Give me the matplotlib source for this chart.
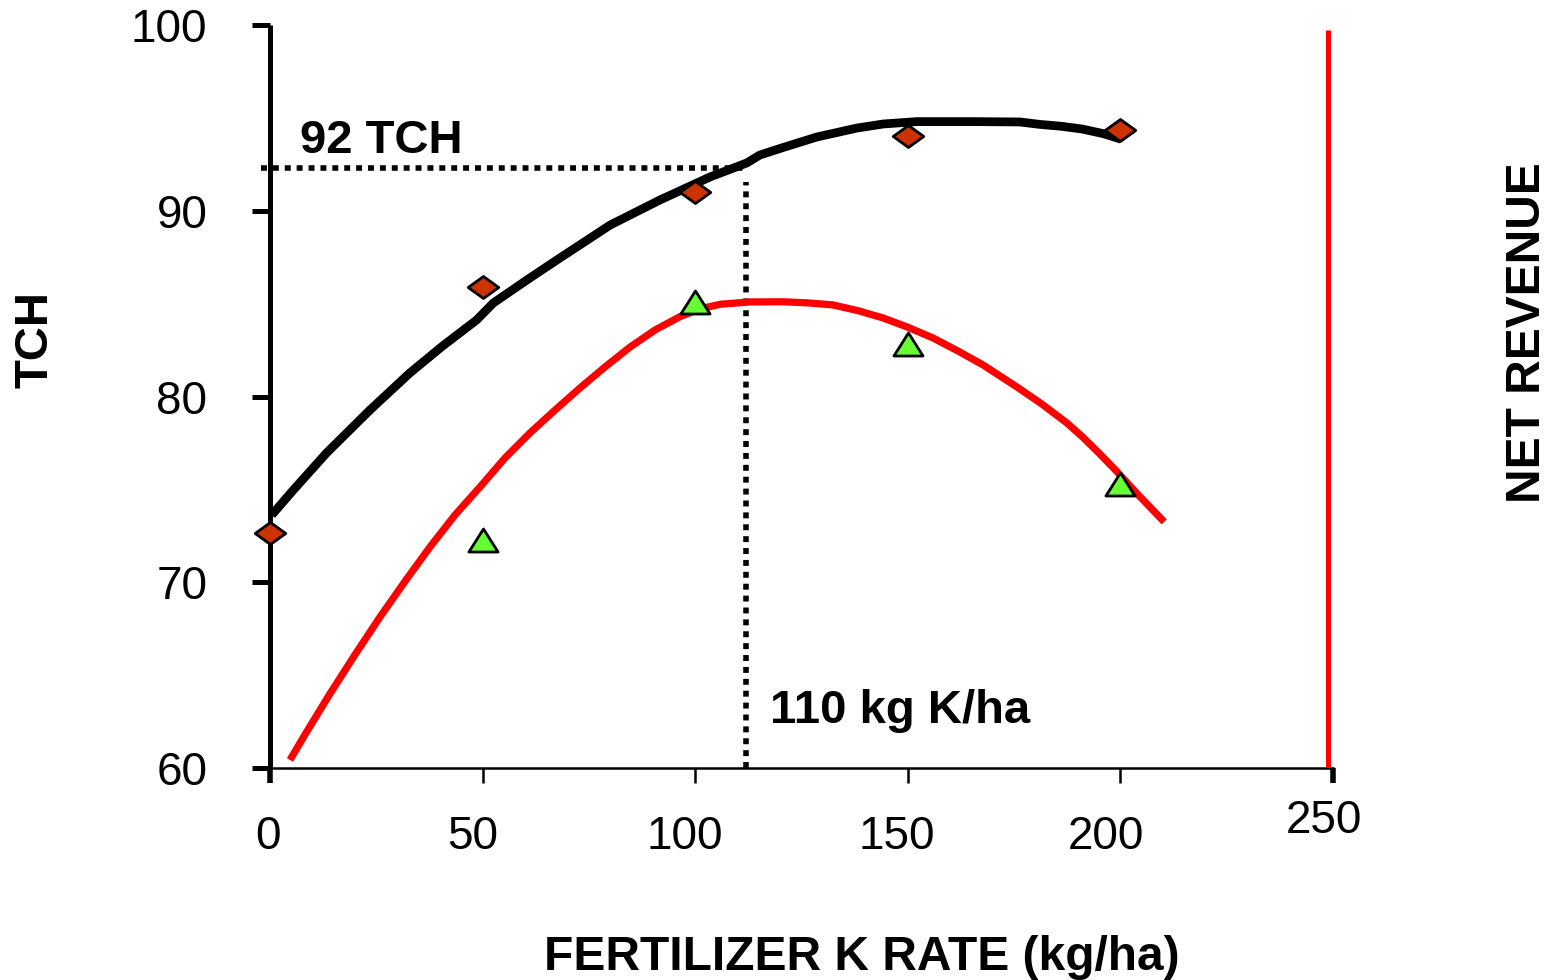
import matplotlib
matplotlib.use("Agg")
import matplotlib.pyplot as plt
import matplotlib.transforms as mtransforms
from matplotlib.path import Path

plt.rcParams['font.family'] = ['Liberation Sans', 'DejaVu Sans']

# ---- data ----
rate_pts = [0, 50, 100, 150, 200]
tch_pts = [72.65, 85.9, 91.0, 94.0, 94.35]
rev_pts_x = [50, 100, 150, 200]
rev_pts = [72.3, 85.1, 82.8, 75.3]

tch_curve_x = [0.4, 5.5, 13.3, 23.5, 32.9, 40.5, 48.6, 52.5, 60.4, 68.2, 80.0, 91.7, 103.5,
               112.1, 115.2, 120.6, 128.6, 138.0, 144.2, 152.2, 165.0, 176.4, 181.0, 186.0,
               191.0, 196.0, 200.2]
tch_curve_y = [73.62, 74.97, 76.96, 79.27, 81.27, 82.7, 84.12, 85.03, 86.27, 87.46, 89.23, 90.58,
               91.82, 92.57, 93.0, 93.4, 93.97, 94.45, 94.67, 94.8, 94.8, 94.78, 94.65, 94.55,
               94.4, 94.15, 93.85]

rev_curve_x = [4.7, 8.23, 14.11, 19.99, 25.87, 31.75, 37.63, 43.5, 49.39, 55.27, 61.15, 67.03,
               72.91, 78.79, 84.67, 90.55, 96.43, 101.13, 106.0, 112.89, 120.65, 126.5,
               132.41, 138.3, 144.17, 150.0, 155.93, 161.8, 167.69, 175.68, 181.5, 187.44,
               191.21, 195.2, 199.2, 204.0, 208.84, 210.3]
rev_curve_y = [60.43, 61.8, 64.0, 66.1, 68.13, 70.05, 71.9, 73.62, 75.13, 76.69, 78.04, 79.27,
               80.46, 81.59, 82.66, 83.58, 84.3, 84.72, 84.97, 85.09, 85.1, 85.04,
               84.93, 84.62, 84.23, 83.73, 83.15, 82.45, 81.7, 80.51, 79.6, 78.57,
               77.8, 76.9, 75.95, 74.75, 73.6, 73.25]

opt_rate = 111.9
opt_tch = 92.32
opt_vline_top = 91.55
rev_axis_x = 248.8

xticks = [0, 50, 100, 150, 200, 250]
yticks = [60, 70, 80, 90, 100]

# ---- figure ----
fig = plt.figure(figsize=(15.53, 9.80), dpi=100)
ax = fig.add_axes([270/1553, 1-768/980, (1333-270)/1553, (768-25)/980])
ax.set_xlim(0, 250)
ax.set_ylim(60, 100)

for s in ['top', 'right']:
    ax.spines[s].set_visible(False)
ax.spines['left'].set_linewidth(3.6)
ax.spines['bottom'].set_linewidth(1.8)
ax.spines['left'].set_capstyle('butt')

ax.set_xticks(xticks)
ax.set_xticklabels([str(v) for v in xticks])
ax.set_yticks(yticks)
ax.set_yticklabels([str(v) for v in yticks])
ax.tick_params(axis='y', direction='out', length=13, width=3.6, pad=32, labelsize=33)
ax.tick_params(axis='x', direction='out', length=11, width=1.8, pad=23, labelsize=33)
xt = ax.xaxis.get_major_ticks()
for i in (0, len(xt)-1):
    xt[i].tick1line.set_markeredgewidth(4)

# per-label horizontal/vertical nudges in pixels
label_dx = [-2, -10, -10, -11, -14, -9]
label_dy = [0, 0, 0, 0, 0, 16]
for lab, dx, dy in zip(ax.get_xticklabels(), label_dx, label_dy):
    lab.set_transform(lab.get_transform() +
                      mtransforms.ScaledTranslation(dx/100, dy/100, fig.dpi_scale_trans))

# dotted guide lines
dots = (0, (1.07, 1.07))
ax.plot([-2, opt_rate], [opt_tch, opt_tch], color='black', lw=4, ls=dots,
        dash_capstyle='butt', clip_on=False, zorder=2)
ax.plot([opt_rate, opt_rate], [60, opt_vline_top], color='black', lw=4, ls=dots,
        dash_capstyle='butt', zorder=2)

# curves
ax.plot(tch_curve_x, tch_curve_y, color='black', lw=6.3, solid_capstyle='butt',
        solid_joinstyle='round', zorder=3)
ax.plot(rev_curve_x, rev_curve_y, color='#FF0000', lw=5.2, solid_capstyle='butt',
        solid_joinstyle='round', zorder=3)

# secondary (net revenue) axis line
ax.plot([rev_axis_x, rev_axis_x], [60, 99.75], color='#FF0000', lw=3.6,
        solid_capstyle='butt', zorder=3)

# markers
diamond = Path([(-1, 0), (0, 0.72), (1, 0), (0, -0.72), (-1, 0)],
               [Path.MOVETO, Path.LINETO, Path.LINETO, Path.LINETO, Path.CLOSEPOLY])
tri = Path([(-1, -0.79), (1, -0.79), (0, 0.79), (-1, -0.79)],
           [Path.MOVETO, Path.LINETO, Path.LINETO, Path.CLOSEPOLY])
ax.plot(rate_pts, tch_pts, ls='none', marker=diamond, ms=22, mfc='#CC3300',
        mec='black', mew=2, clip_on=False, zorder=4)
ax.plot(rev_pts_x, rev_pts, ls='none', marker=tri, ms=21, mfc='#66FF33',
        mec='black', mew=2, clip_on=False, zorder=4)

# annotations
ax.text(7, 93.11, '92 TCH', fontsize=34, fontweight='bold', ha='left', va='baseline')
ax.text(117.5, 62.42, '110 kg K/ha', fontsize=34, fontweight='bold', ha='left', va='baseline')

fig.text(35/1553, 1-340/980, 'TCH', fontsize=34, fontweight='bold', rotation=90,
         ha='center', va='center')
fig.text(1527/1553, 1-333/980, 'NET REVENUE', fontsize=34.5, fontweight='bold', rotation=90,
         ha='center', va='center')
fig.text(862/1553, 1-957/980, 'FERTILIZER K RATE (kg/ha)', fontsize=34.5, fontweight='bold',
         ha='center', va='center')

fig.savefig('out.png', dpi=100)
